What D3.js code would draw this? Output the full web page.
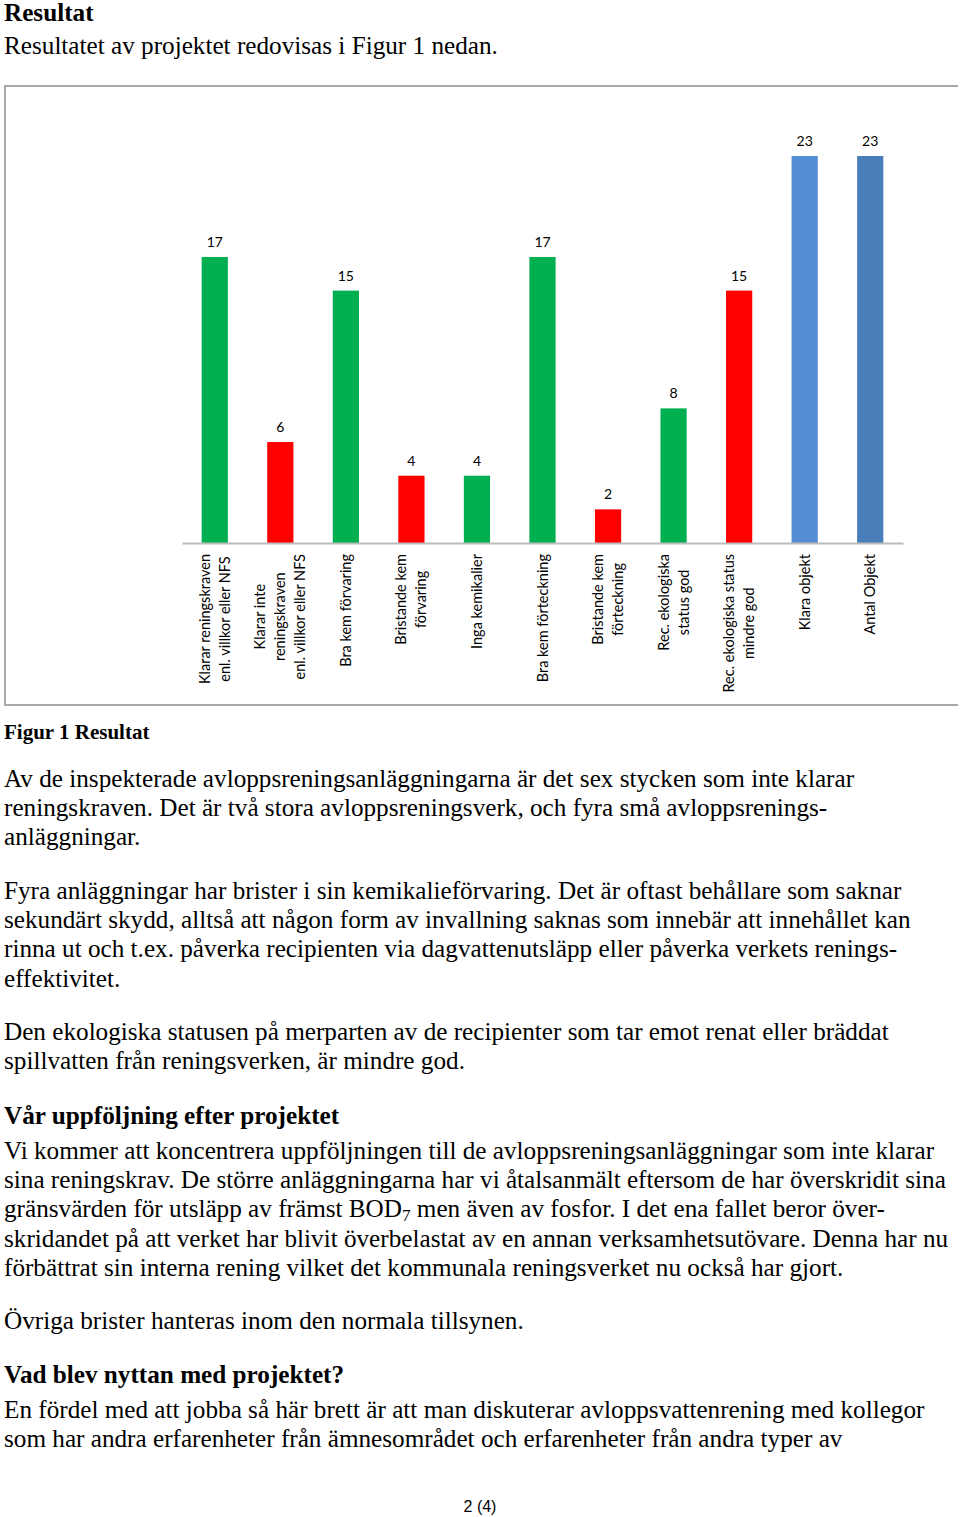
<!DOCTYPE html>
<html>
<head>
<meta charset="utf-8">
<script src="https://cdn.jsdelivr.net/npm/d3@7"></script>
<style>
  html, body { margin: 0; padding: 0; background: #fff; }
  svg { display: block; }
</style>
</head>
<body>
<svg id="page" width="960" height="1517"></svg>
<script>
// ---------- DATA ----------
const categories = [
  "Klarar reningskraven\nenl. villkor eller NFS",
  "Klarar inte\nreningskraven\nenl. villkor eller NFS",
  "Bra kem förvaring",
  "Bristande kem\nförvaring",
  "Inga kemikalier",
  "Bra kem förteckning",
  "Bristande kem\nförteckning",
  "Rec. ekologiska\nstatus god",
  "Rec. ekologiska status\nmindre god",
  "Klara objekt",
  "Antal Objekt"
];
const values = [17, 6, 15, 4, 4, 17, 2, 8, 15, 23, 23];
const status = ["ok", "bad", "ok", "bad", "ok", "ok", "bad", "ok", "bad", "total1", "total2"];
const statusKeys = ["ok", "bad", "total1", "total2"];
const statusColors = ["#00B050", "#FF0000", "#558ED5", "#4A7EBB"];

// ---------- TEXT ----------
const serif = "'Liberation Serif', 'Times New Roman', serif";
const svg = d3.select("#page");

function line(txt, y, opts = {}) {
  const t = svg.append("text")
    .attr("x", opts.x ?? 4)
    .attr("y", y)
    .attr("font-family", opts.family ?? serif)
    .attr("font-size", opts.size ?? 25.2)
    .attr("font-weight", opts.bold ? "bold" : "normal")
    .attr("fill", "#000")
    .attr("text-anchor", opts.anchor ?? "start");
  if (Array.isArray(txt)) {
    txt.forEach(p => {
      const ts = t.append("tspan").text(p.t);
      if (p.sub) ts.attr("font-size", 17).attr("dy", 4);
      if (p.after) ts.attr("dy", -4);
    });
  } else t.text(txt);
  return t;
}

line("Resultat", 21, {bold: true});
line("Resultatet av projektet redovisas i Figur 1 nedan.", 54);
line("Figur 1 Resultat", 739, {bold: true, size: 21});

const paragraphs = [
  {y: 787, lines: [
    "Av de inspekterade avloppsreningsanläggningarna är det sex stycken som inte klarar",
    "reningskraven. Det är två stora avloppsreningsverk, och fyra små avloppsrenings-",
    "anläggningar."]},
  {y: 899, lines: [
    "Fyra anläggningar har brister i sin kemikalieförvaring. Det är oftast behållare som saknar",
    "sekundärt skydd, alltså att någon form av invallning saknas som innebär att innehållet kan",
    "rinna ut och t.ex. påverka recipienten via dagvattenutsläpp eller påverka verkets renings-",
    "effektivitet."]},
  {y: 1040, lines: [
    "Den ekologiska statusen på merparten av de recipienter som tar emot renat eller bräddat",
    "spillvatten från reningsverken, är mindre god."]},
  {y: 1124, bold: true, lines: ["Vår uppföljning efter projektet"]},
  {y: 1159, lines: [
    "Vi kommer att koncentrera uppföljningen till de avloppsreningsanläggningar som inte klarar",
    "sina reningskrav. De större anläggningarna har vi åtalsanmält eftersom de har överskridit sina",
    [{t: "gränsvärden för utsläpp av främst BOD"}, {t: "7", sub: true}, {t: " men även av fosfor. I det ena fallet beror över-", after: true}],
    "skridandet på att verket har blivit överbelastat av en annan verksamhetsutövare. Denna har nu",
    "förbättrat sin interna rening vilket det kommunala reningsverket nu också har gjort."]},
  {y: 1329, lines: ["Övriga brister hanteras inom den normala tillsynen."]},
  {y: 1383, bold: true, lines: ["Vad blev nyttan med projektet?"]},
  {y: 1418, lines: [
    "En fördel med att jobba så här brett är att man diskuterar avloppsvattenrening med kollegor",
    "som har andra erfarenheter från ämnesområdet och erfarenheter från andra typer av"]}
];
paragraphs.forEach(p => p.lines.forEach((l, i) => line(l, p.y + i * 29.2, {bold: p.bold})));

line("2 (4)", 1512, {x: 480, anchor: "middle", size: 16, family: "'Liberation Sans', Arial, sans-serif"});

// ---------- CHART ----------
// frame (right side open, as in reference)
svg.append("path")
  .attr("d", "M958,86 H5 V705 H958")
  .attr("fill", "none")
  .attr("stroke", "#a8a8a8")
  .attr("stroke-width", 2);

const chartFont = "Lato, 'Open Sans', sans-serif";
const x = d3.scaleBand().domain(d3.range(categories.length)).range([182, 903])
  .paddingInner(0.6).paddingOuter(0.3);
const y = d3.scaleLinear().domain([0, 23]).range([543, 156]);
const color = d3.scaleOrdinal().domain(statusKeys).range(statusColors);

const g = svg.append("g");

g.selectAll("rect.bar").data(values).join("rect")
  .attr("class", "bar")
  .attr("x", (d, i) => x(i))
  .attr("width", x.bandwidth())
  .attr("y", d => y(d))
  .attr("height", d => y(0) - y(d))
  .attr("fill", (d, i) => color(status[i]));

g.selectAll("text.val").data(values).join("text")
  .attr("class", "val")
  .attr("x", (d, i) => x(i) + x.bandwidth() / 2)
  .attr("y", d => y(d) - 10)
  .attr("text-anchor", "middle")
  .attr("font-family", chartFont)
  .attr("font-size", 14)
  .attr("fill", "#000")
  .text(d => d);

// baseline axis
const xAxis = d3.axisBottom(x).tickSize(0).tickFormat("");
const axisG = g.append("g").attr("transform", `translate(0,${y(0)})`).call(xAxis);
axisG.select(".domain").attr("stroke", "#bcbcbc").attr("stroke-width", 2);

// rotated, multi-line category labels
const labelTop = 554, lineGap = 20;
categories.forEach((c, i) => {
  const lines = c.split("\n");
  const cx = x(i) + x.bandwidth() / 2;
  const lg = g.append("g").attr("transform", `translate(${cx},${labelTop}) rotate(-90)`);
  const texts = lines.map((l, k) => lg.append("text")
    .attr("font-family", chartFont)
    .attr("font-size", 14.5)
    .attr("fill", "#000")
    .attr("text-anchor", "middle")
    .attr("y", (k - (lines.length - 1) / 2) * lineGap)
    .attr("dy", "0.35em")
    .text(l));
  const maxLen = d3.max(texts, t => t.node().getComputedTextLength());
  texts.forEach(t => t.attr("x", -maxLen / 2));
});
</script>
</body>
</html>
